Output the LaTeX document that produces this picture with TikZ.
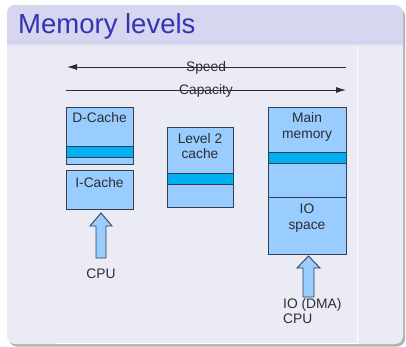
\documentclass[tikz,border=0pt]{standalone}
\usepackage{fontspec}
\setmainfont{Liberation Sans}
\usetikzlibrary{arrows.meta}
\definecolor{titlebg}{RGB}{214,214,240}
\definecolor{bodybg}{RGB}{235,235,245}
\definecolor{titlefg}{RGB}{51,51,179}
\definecolor{cellfill}{RGB}{153,204,255}
\definecolor{stripefill}{RGB}{0,176,240}
\definecolor{celledge}{RGB}{52,64,82}
\definecolor{inktext}{RGB}{45,45,45}
\tikzset{
  memcell/.style={draw=celledge, fill=cellfill, line width=0.9pt, inner sep=0pt, anchor=north west},
  stripe/.style={draw=celledge, fill=stripefill, line width=0.9pt},
  lbl/.style={text=inktext, font=\fontsize{13.8}{16}\selectfont, inner sep=0pt, anchor=base},
  lbll/.style={lbl, anchor=base west},
  scaleline/.style={draw=inktext, line width=0.9pt},
  blockarrow/.style={draw=celledge, fill=cellfill, line width=0.9pt, line join=miter},
}
\begin{document}
\begin{tikzpicture}[x=1pt, y=-1pt]
\useasboundingbox (0,0) rectangle (406,347);
% slide frame with a soft shadow
\fill[black!30, rounded corners=8pt] (9,8) rectangle (405,346.5);
\fill[bodybg, rounded corners=8pt] (7,5) rectangle (403,344);
\begin{scope}
  \clip[rounded corners=8pt] (7,5) rectangle (403,344);
  \fill[titlebg] (7,5) rectangle (403,43);
  \shade[top color=titlebg, bottom color=bodybg] (7,43) rectangle (403,46);
\end{scope}
\node[anchor=base west, inner sep=0pt, text=titlefg, font=\fontsize{27.5}{30}\selectfont] (title) at (18,34) {Memory levels};
% border of the embedded drawing
\draw[white, line width=0.8pt] (55,343) -- (357,343) -- (357,46);

% speed / capacity scale
\coordinate (sL) at (67,67);
\coordinate (sR) at (346,67);
\coordinate (cL) at (66,90);
\coordinate (cR) at (346,90);
\draw[scaleline, {Latex[length=10pt,width=6pt]}-] (sL) -- (sR);
\draw[scaleline, -{Latex[length=10pt,width=6pt]}] (cL) -- (cR);
\node[lbl] (speed) at (206,72) {Speed};
\node[lbl] (capacity) at (206,95) {Capacity};

% level 1 caches
\node[memcell, minimum width=67pt, minimum height=57pt] (dcache) at (66,107) {};
\draw[stripe] (66,146) rectangle (133,157);
\node[lbl] (dcachetxt) at (99.5,123) {D-Cache};
\node[memcell, minimum width=67pt, minimum height=39pt] (icache) at (66,170) {};
\node[lbl] (icachetxt) at (99.5,187) {I-Cache};

% level 2 cache
\node[memcell, minimum width=66pt, minimum height=80pt] (ltwo) at (167,127) {};
\draw[stripe] (167,173) rectangle (233,184);
\node[lbl] (ltwoa) at (200,144) {Level 2};
\node[lbl] (ltwob) at (200,159) {cache};

% main memory
\node[memcell, minimum width=78pt, minimum height=147pt] (mainmem) at (268,107) {};
\draw[stripe] (268,152) rectangle (346,163);
\draw[draw=celledge, line width=0.9pt] (268,197) -- (346,197);
\node[lbl] (mainA) at (307,123) {Main};
\node[lbl] (mainB) at (307,139) {memory};
\node[lbl] (ioA) at (307,213) {IO};
\node[lbl] (ioB) at (307,229) {space};

% access arrows
\draw[blockarrow] (101,213) -- (112,226) -- (106,226) -- (106,258) -- (96,258) -- (96,226) -- (90,226) -- cycle;
\node[lbl] (cpu) at (101,278) {CPU};
\draw[blockarrow] (308.5,256) -- (320,268) -- (314,268) -- (314,297) -- (303,297) -- (303,268) -- (297,268) -- cycle;
\node[lbll] (dmaA) at (283,308) {IO (DMA)};
\node[lbll] (dmaB) at (283,323) {CPU};
\end{tikzpicture}
\end{document}
